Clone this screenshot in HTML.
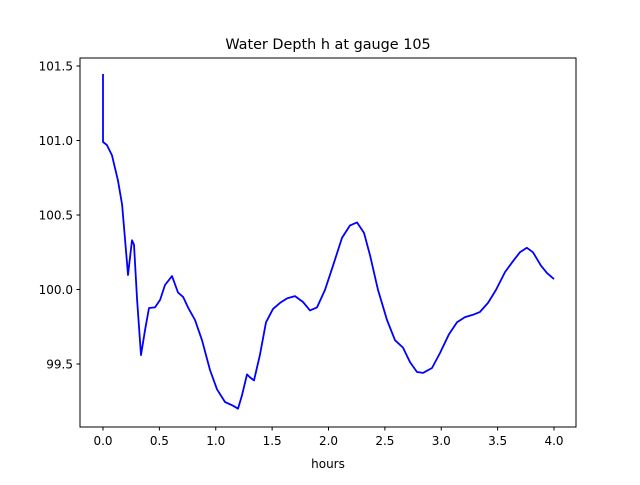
<!DOCTYPE html>
<html><head><meta charset="utf-8"><style>
body{margin:0;background:#fff;}
text{font-family:"DejaVu Sans","Liberation Sans",sans-serif;}
</style></head><body>
<svg id="chart" width="640" height="480" xmlns="http://www.w3.org/2000/svg">
<rect width="640" height="480" fill="#fff"/>
<text x="328" y="49" font-size="14.4" text-anchor="middle">Water Depth h at gauge 105</text>
<g id="xt"></g>
<g id="yt"></g>
<path id="line" fill="none" stroke="#0000ff" stroke-width="1.8" stroke-linejoin="round"/>
<rect x="80" y="58" width="496" height="369" fill="none" stroke="#000" stroke-width="1"/>
<text x="328" y="468" font-size="12" text-anchor="middle">hours</text>
</svg>
<script>
const hours=[0,0,0.035,0.08,0.133,0.169,0.213,0.222,0.257,0.275,0.302,0.337,0.373,0.408,0.461,0.506,0.55,0.612,0.665,0.71,0.754,0.816,0.878,0.949,1.011,1.082,1.153,1.197,1.233,1.277,1.304,1.339,1.392,1.446,1.508,1.57,1.632,1.703,1.774,1.836,1.898,1.969,2.04,2.12,2.191,2.253,2.315,2.368,2.439,2.519,2.59,2.661,2.723,2.785,2.838,2.918,2.989,3.069,3.14,3.211,3.282,3.344,3.415,3.486,3.565,3.636,3.698,3.76,3.814,3.885,3.938,4.0];
const depth=[101.446,100.99,100.97,100.90,100.73,100.57,100.18,100.097,100.33,100.30,99.93,99.56,99.73,99.876,99.88,99.93,100.03,100.09,99.98,99.95,99.88,99.795,99.66,99.46,99.33,99.245,99.22,99.2,99.29,99.43,99.41,99.39,99.56,99.78,99.87,99.91,99.94,99.956,99.916,99.86,99.88,99.997,100.16,100.346,100.43,100.45,100.38,100.23,99.997,99.795,99.66,99.61,99.513,99.446,99.44,99.473,99.574,99.70,99.78,99.815,99.83,99.85,99.91,99.997,100.117,100.19,100.25,100.28,100.25,100.16,100.11,100.07];
const xTicks=[0,0.5,1,1.5,2,2.5,3,3.5,4];
const yTicks=[99.5,100,100.5,101,101.5];
const X=v=>103+v*112.75;
const Y=v=>66+(101.5-v)*149;
const NS='http://www.w3.org/2000/svg';
const xt=document.getElementById('xt'),yt=document.getElementById('yt');
xTicks.forEach(t=>{
 const l=document.createElementNS(NS,'line');
 l.setAttribute('x1',X(t));l.setAttribute('x2',X(t));l.setAttribute('y1',427);l.setAttribute('y2',430.5);l.setAttribute('stroke','#000');
 
 
 xt.appendChild(l);
 const tx=document.createElementNS(NS,'text');
 tx.setAttribute('x',X(t));tx.setAttribute('y',445);tx.setAttribute('font-size','12');tx.setAttribute('text-anchor','middle');
 tx.textContent=t.toFixed(1);
 
 
 xt.appendChild(tx);
});
yTicks.forEach(t=>{
 const l=document.createElementNS(NS,'line');
 l.setAttribute('x1',76.5);l.setAttribute('x2',80);l.setAttribute('y1',Y(t));l.setAttribute('y2',Y(t));l.setAttribute('stroke','#000');
 
 
 yt.appendChild(l);
 const tx=document.createElementNS(NS,'text');
 tx.setAttribute('x',73);tx.setAttribute('y',Y(t)+4.5);tx.setAttribute('font-size','12');tx.setAttribute('text-anchor','end');
 tx.textContent=t.toFixed(1);
 
 
 yt.appendChild(tx);
});
let d='';
hours.forEach((h,i)=>{d+=(i?'L':'M')+X(h).toFixed(1)+','+Y(depth[i]).toFixed(1);});
document.getElementById('line').setAttribute('d',d);
</script>
</body></html>
